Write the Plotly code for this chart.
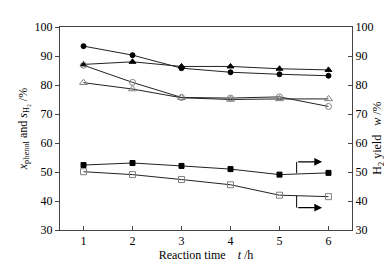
import plotly.graph_objects as go

time_h = [1, 2, 3, 4, 5, 6]
conv_filled_circle = [93.4, 90.3, 85.8, 84.4, 83.7, 83.2]
sel_filled_tri = [87.1, 88.0, 86.4, 86.4, 85.6, 85.2]
conv_open_circle = [86.8, 80.9, 75.7, 75.5, 75.9, 72.6]
sel_open_tri = [80.8, 78.6, 75.6, 75.0, 75.2, 75.2]
yield_filled_sq = [52.4, 53.1, 52.1, 51.0, 49.1, 49.7]
yield_open_sq = [50.1, 49.1, 47.4, 45.6, 42.0, 41.5]
y_ticks = [30, 40, 50, 60, 70, 80, 90, 100]

FONT = "Liberation Serif"
GRAY = "#808080"

fig = go.Figure()

def add(y, symbol, color, fill, size, yaxis="y"):
    fig.add_trace(go.Scatter(
        x=time_h, y=y, mode="lines+markers", yaxis=yaxis,
        line=dict(color="#222", width=1),
        marker=dict(symbol=symbol, size=size,
                    color=fill, line=dict(color=color, width=1)),
        showlegend=False))

add(conv_filled_circle, "circle", "black", "black", 5)
add(sel_filled_tri, "triangle-up", "black", "black", 6)
add(conv_open_circle, "circle-open", GRAY, GRAY, 6)
add(sel_open_tri, "triangle-up-open", GRAY, GRAY, 7)
add(yield_filled_sq, "square", "black", "black", 5, "y2")
add(yield_open_sq, "square-open", GRAY, GRAY, 6, "y2")

# indicator arrows pointing to the right axis
fig.add_shape(type="line", xref="x", yref="y2", x0=5.35, x1=5.35, y0=49.6, y1=53.5,
              line=dict(color="black", width=1))
fig.add_annotation(x=5.87, y=53.5, ax=5.35, ay=53.5, xref="x", yref="y2",
                   axref="x", ayref="y2", showarrow=True, arrowhead=2,
                   arrowsize=1.3, arrowwidth=1.2, arrowcolor="black", text="")
fig.add_shape(type="line", xref="x", yref="y2", x0=5.35, x1=5.35, y0=41.8, y1=37.7,
              line=dict(color="black", width=1))
fig.add_annotation(x=5.87, y=37.7, ax=5.35, ay=37.7, xref="x", yref="y2",
                   axref="x", ayref="y2", showarrow=True, arrowhead=2,
                   arrowsize=1.3, arrowwidth=1.2, arrowcolor="black", text="")

# right-axis title as annotation
fig.add_annotation(text="H<sub>2</sub> yield&nbsp;&nbsp;&nbsp;<i>w</i> /%", xref="paper", yref="paper",
                   x=1.0, y=0.45, xanchor="center", yanchor="middle", xshift=26,
                   textangle=-90, showarrow=False,
                   font=dict(family=FONT, size=12, color="black"))

fig.update_layout(
    width=392, height=264,
    margin=dict(l=52, r=48, t=15, b=41),
    paper_bgcolor="white", plot_bgcolor="white",
    font=dict(family=FONT, size=12, color="black"),
    xaxis=dict(range=[0.52, 6.48], tickvals=time_h, ticks="inside", ticklen=4,
               showline=True, linecolor="#444", linewidth=1, mirror=True,
               showgrid=False, zeroline=False,
               tickfont=dict(family=FONT, size=12),
               title=dict(text="Reaction time&nbsp;&nbsp;&nbsp;&nbsp;<i>t</i> /h", standoff=3,
                          font=dict(family=FONT, size=12))),
    yaxis=dict(range=[30, 100], tickvals=y_ticks, ticks="outside", ticklen=4,
               showline=True, linecolor="#444", linewidth=1, mirror=True,
               showgrid=False, zeroline=False,
               tickfont=dict(family=FONT, size=12),
               title=dict(text="<i>x</i><sub>phenol</sub> and <i>s</i><sub>H₂</sub> /%",
                          standoff=4, font=dict(family=FONT, size=12))),
    yaxis2=dict(range=[30, 100], tickvals=y_ticks, ticks="inside", ticklen=4,
                overlaying="y", side="right", showline=True, linecolor="#444",
                linewidth=1, showgrid=False, zeroline=False,
                tickfont=dict(family=FONT, size=12)),
)

fig.write_html("out.html")
